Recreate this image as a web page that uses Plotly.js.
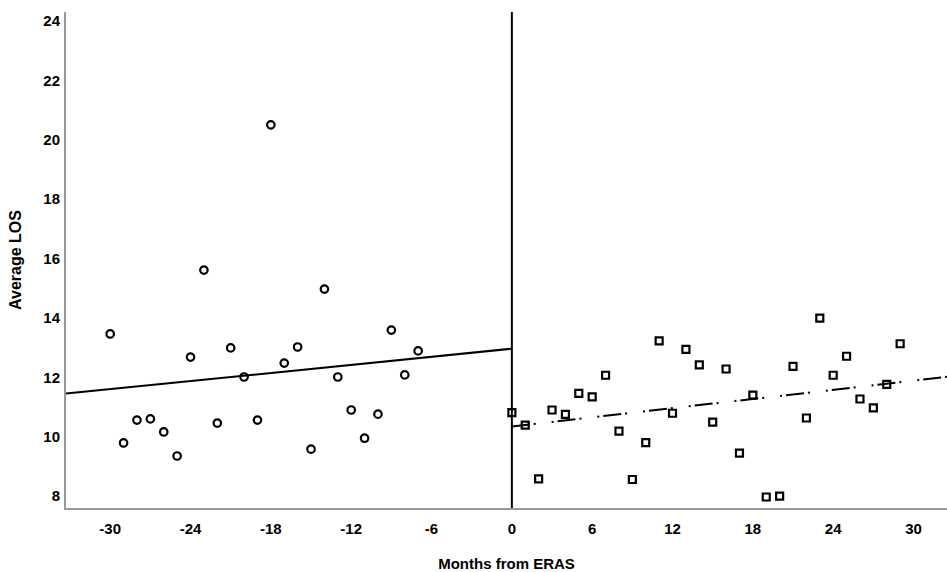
<!DOCTYPE html>
<html>
<head>
<meta charset="utf-8">
<script src="https://cdn.plot.ly/plotly-3.0.1.min.js"></script>
<style>html,body{margin:0;padding:0;background:#fff;}#chart{width:947px;height:572px;}</style>
</head>
<body>
<div id="chart"></div>
<script>
// Pre-ERAS months and average LOS
const preMonths = [-30,-29,-28,-27,-26,-25,-24,-23,-22,-21,-20,-19,-18,-17,-16,-15,-14,-13,-12,-11,-10,-9,-8,-7];
const preLOS = [13.46,9.79,10.56,10.6,10.16,9.35,12.68,15.61,10.46,12.99,12.01,10.56,20.5,12.48,13.02,9.58,14.97,12.01,10.9,9.95,10.76,13.59,12.08,12.89];
// Post-ERAS months and average LOS
const postMonths = [0,1,2,3,4,5,6,7,8,9,10,11,12,13,14,15,16,17,18,19,20,21,22,23,24,25,26,27,28,29];
const postLOS = [10.81,10.39,8.58,10.9,10.75,11.46,11.34,12.07,10.19,8.56,9.8,13.23,10.79,12.94,12.42,10.49,12.28,9.45,11.4,7.97,8.0,12.37,10.63,13.99,12.07,12.71,11.27,10.97,11.76,13.13];
// Tick labels
const xTicks = [-30,-24,-18,-12,-6,0,6,12,18,24,30];
const yTicks = [8,10,12,14,16,18,20,22,24];
const xTitle = "Months from ERAS";
const yTitle = "Average LOS";

const xRange = [-33.3, 32.5];
const yRange = [7.6, 24.3];

function ols(xs, ys) {
  const n = xs.length;
  const mx = xs.reduce((a,b)=>a+b,0)/n;
  const my = ys.reduce((a,b)=>a+b,0)/n;
  let sxy = 0, sxx = 0;
  for (let i=0;i<n;i++){ sxy += (xs[i]-mx)*(ys[i]-my); sxx += (xs[i]-mx)*(xs[i]-mx); }
  const b = sxy/sxx;
  return {a: my - b*mx, b: b};
}
const preFit = ols(preMonths, preLOS);
const postFit = ols(postMonths, postLOS);
const preLineX = [xRange[0], 0];
const postLineX = [0, xRange[1]];

const tickFamily = '"Liberation Sans Narrow", "Arial Narrow", "Liberation Sans", Arial, sans-serif';
const titleFamily = '"Liberation Sans", Arial, sans-serif';

const data = [
  {x: preLineX, y: preLineX.map(x=>preFit.a+preFit.b*x), mode:'lines', line:{color:'#000', width:2}, hoverinfo:'skip', showlegend:false},
  {x: postLineX, y: postLineX.map(x=>postFit.a+postFit.b*x), mode:'lines', line:{color:'#000', width:2, dash:'18px,4px,2px,16px,2px,4px'}, hoverinfo:'skip', showlegend:false},
  {x: preMonths, y: preLOS, mode:'markers', marker:{symbol:'circle-open', size:7.5, color:'#000', line:{width:2.2, color:'#000'}}, showlegend:false},
  {x: postMonths, y: postLOS, mode:'markers', marker:{symbol:'square-open', size:7, color:'#000', line:{width:2.2, color:'#000'}}, showlegend:false}
];

const layout = {
  width: 947, height: 572,
  margin: {l:66, r:0, t:12, b:64},
  paper_bgcolor:'#fff', plot_bgcolor:'#fff',
  showlegend:false,
  xaxis: {
    range: xRange, tickvals: xTicks, ticktext: xTicks.map(String),
    showgrid:false, zeroline:false, showline:true, linecolor:'#999', linewidth:2,
    ticks:'', ticklabelstandoff: 6,
    tickfont:{family:tickFamily, size:15, color:'#000', weight:'bold'},
    title:{text:'<b>'+xTitle+'</b>', standoff: 22, font:{family:titleFamily, size:15, color:'#000'}}
  },
  yaxis: {
    range: yRange, tickvals: yTicks, ticktext: yTicks.map(String),
    showgrid:false, zeroline:false, showline:true, linecolor:'#999', linewidth:2,
    ticks:'', ticklabelstandoff: 1,
    tickfont:{family:tickFamily, size:15, color:'#000', weight:'bold'},
    title:{text:'<b>'+yTitle+'</b>', standoff: 18, font:{family:titleFamily, size:16, color:'#000'}}
  },
  shapes: [
    {type:'line', xref:'x', yref:'paper', x0:0, x1:0, y0:0, y1:1, line:{color:'#000', width:2}}
  ]
};

Plotly.newPlot('chart', data, layout, {displayModeBar:false, staticPlot:true});
</script>
</body>
</html>
